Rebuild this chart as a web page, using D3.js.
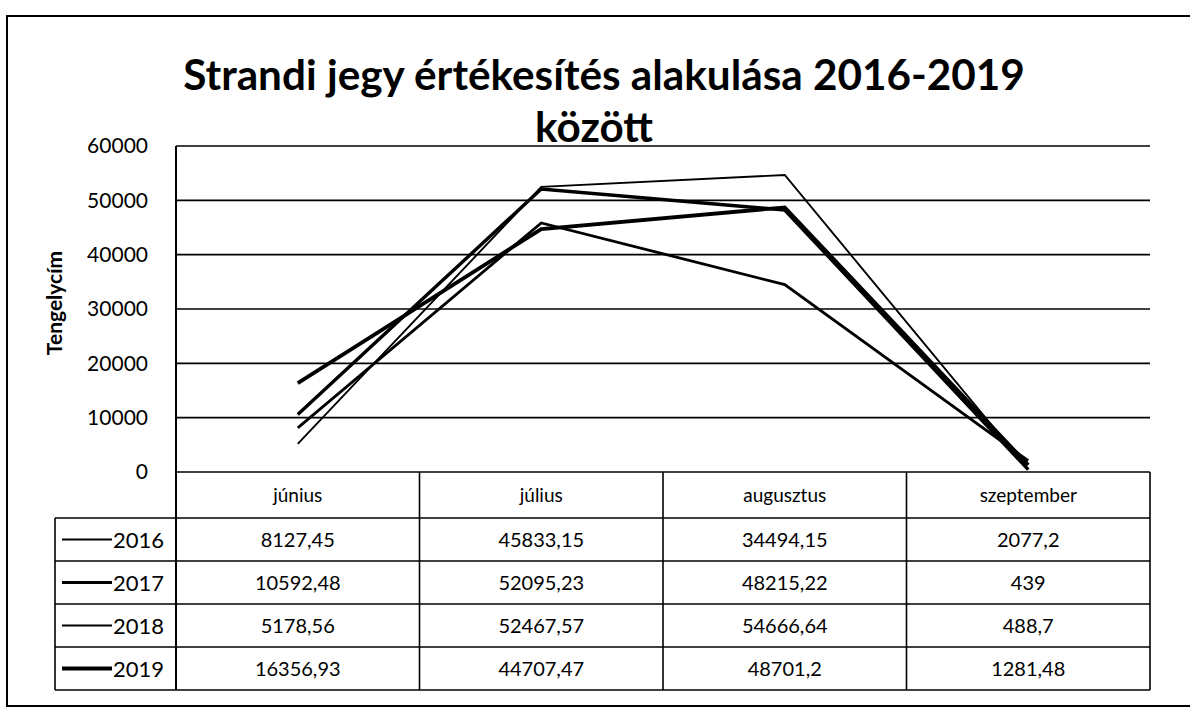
<!DOCTYPE html>
<html><head><meta charset="utf-8">
<script src="https://cdn.jsdelivr.net/npm/d3@7"></script>
<style>body{margin:0;background:#fff}svg{display:block}</style>
</head><body>
<svg id="c" width="1190" height="708"></svg>
<script>
const titleLines = ["Strandi jegy értékesítés alakulása 2016-2019", "között"];
const yAxisTitle = "Tengelycím";
const months = ["június", "július", "augusztus", "szeptember"];
const years = ["2016", "2017", "2018", "2019"];
const v2016 = [8127.45, 45833.15, 34494.15, 2077.2];
const v2017 = [10592.48, 52095.23, 48215.22, 439];
const v2018 = [5178.56, 52467.57, 54666.64, 488.7];
const v2019 = [16356.93, 44707.47, 48701.2, 1281.48];
const labels2016 = ["8127,45", "45833,15", "34494,15", "2077,2"];
const labels2017 = ["10592,48", "52095,23", "48215,22", "439"];
const labels2018 = ["5178,56", "52467,57", "54666,64", "488,7"];
const labels2019 = ["16356,93", "44707,47", "48701,2", "1281,48"];
const yTicks = [0, 10000, 20000, 30000, 40000, 50000, 60000];

const series = [
  {name: years[0], values: v2016, labels: labels2016, w: 2.8, lw: 2.2},
  {name: years[1], values: v2017, labels: labels2017, w: 3.4, lw: 3},
  {name: years[2], values: v2018, labels: labels2018, w: 1.9, lw: 2},
  {name: years[3], values: v2019, labels: labels2019, w: 3.8, lw: 4}
];

const svg = d3.select("#c");
const FONT = "Lato, 'Open Sans', sans-serif";
const L = 176, R = 1150, T = 146, B = 472;
const rowTops = [518, 561, 604, 647, 690];
const legL = 55;

// outer frame
svg.append("rect").attr("x", 7).attr("y", 16).attr("width", 1200).attr("height", 690)
  .attr("fill", "none").attr("stroke", "#000").attr("stroke-width", 2);

// title
const title = svg.append("g");
const t1 = title.append("text").attr("x", 604).attr("y", 90).attr("text-anchor", "middle")
  .attr("font-family", FONT).attr("font-weight", "bold").attr("font-size", 40).text(titleLines[0]);
const w = t1.node().getComputedTextLength();
const fs = 40 * 842 / w;
t1.attr("font-size", fs);
title.append("text").attr("x", 594).attr("y", 142).attr("text-anchor", "middle")
  .attr("font-family", FONT).attr("font-weight", "bold").attr("font-size", fs).text(titleLines[1]);

const x = d3.scaleBand().domain(months).range([L, R]);
const y = d3.scaleLinear().domain([0, 60000]).range([B, T]);

// gridlines
svg.append("g").selectAll("line").data(yTicks).join("line")
  .attr("x1", L).attr("x2", R).attr("y1", d => y(d)).attr("y2", d => y(d))
  .attr("stroke", "#000").attr("stroke-width", 1.6);

// y axis labels
const yAxis = d3.axisLeft(y).tickValues(yTicks).tickSize(0).tickPadding(28).tickFormat(d3.format("d"));
const ya = svg.append("g").attr("transform", `translate(${L},0)`).call(yAxis);
ya.select(".domain").remove();
ya.selectAll("text").attr("font-family", FONT).attr("font-size", 21).attr("fill", "#000");

svg.append("text").attr("transform", `translate(62,303) rotate(-90)`).attr("text-anchor", "middle")
  .attr("font-family", FONT).attr("font-weight", "bold").attr("font-size", 21).text(yAxisTitle);

// plot left line
svg.append("line").attr("x1", L).attr("x2", L).attr("y1", T).attr("y2", rowTops[4])
  .attr("stroke", "#000").attr("stroke-width", 2);

// lines
const line = d3.line().x((d, i) => x(months[i]) + x.bandwidth() / 2).y(d => y(d));
svg.append("g").selectAll("path").data(series).join("path")
  .attr("d", d => line(d.values)).attr("fill", "none").attr("stroke", "#000")
  .attr("stroke-width", d => d.w).attr("stroke-linejoin", "miter");

// table
const tbl = svg.append("g").attr("font-family", FONT).attr("fill", "#000");
rowTops.forEach((ry) => {
  tbl.append("line").attr("x1", legL).attr("x2", R).attr("y1", ry).attr("y2", ry)
    .attr("stroke", "#000").attr("stroke-width", 1.6);
});
const colEdges = months.map(m => x(m)).concat([R]);
colEdges.forEach((cx, i) => {
  tbl.append("line").attr("x1", cx).attr("x2", cx).attr("y1", i === 0 ? T : B).attr("y2", rowTops[4])
    .attr("stroke", "#000").attr("stroke-width", 1.6);
});
tbl.append("line").attr("x1", legL).attr("x2", legL).attr("y1", rowTops[0]).attr("y2", rowTops[4])
  .attr("stroke", "#000").attr("stroke-width", 1.6);
tbl.selectAll("text.h").data(months).join("text").attr("class", "h")
  .attr("x", d => x(d) + x.bandwidth() / 2).attr("y", (B + rowTops[0]) / 2 + 7)
  .attr("text-anchor", "middle").attr("font-size", 19).text(d => d);
series.forEach((s, r) => {
  const cy = (rowTops[r] + rowTops[r + 1]) / 2;
  tbl.append("line").attr("x1", 62).attr("x2", 112).attr("y1", cy).attr("y2", cy)
    .attr("stroke", "#000").attr("stroke-width", s.lw);
  tbl.append("text").attr("x", 113).attr("y", cy + 8).attr("font-size", 22).text(s.name);
  tbl.selectAll(null).data(s.labels).join("text")
    .attr("x", (d, i) => x(months[i]) + x.bandwidth() / 2).attr("y", cy + 7)
    .attr("text-anchor", "middle").attr("font-size", 20).text(d => d);
});
</script>
</body></html>
